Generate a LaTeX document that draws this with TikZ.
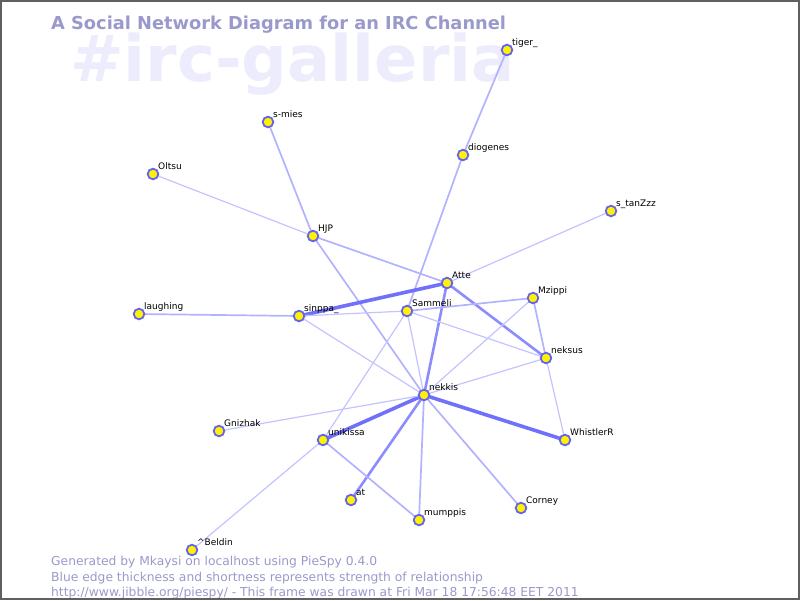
\documentclass[tikz,border=0pt]{standalone}
\usepackage{fontspec}
\setmainfont{DejaVu Sans}
\usetikzlibrary{backgrounds}

\definecolor{caption}{RGB}{153,153,204}
\definecolor{watermark}{RGB}{236,236,252}
\definecolor{ringblue}{RGB}{100,100,240}
\definecolor{framegray}{RGB}{96,96,96}
\definecolor{edgefaint}{RGB}{195,195,255}
\definecolor{edgesoft}{RGB}{178,178,255}
\definecolor{edgefirm}{RGB}{140,140,255}
\definecolor{edgestrong}{RGB}{112,112,250}

\begin{document}
\begin{tikzpicture}[x=1pt, y=-1pt,
    person/.style={circle, fill=yellow, draw=ringblue, line width=1.8pt, minimum size=10.6pt, inner sep=0pt},
    nick/.style={anchor=base west, inner sep=0pt, font=\fontsize{9}{9}\selectfont},
    footer/.style={anchor=base west, inner sep=0pt, text=caption, font=\fontsize{12.3}{12.3}\selectfont},
    faint/.style={draw=edgefaint, line width=1.2pt},
    soft/.style={draw=edgesoft, line width=1.7pt},
    firm/.style={draw=edgefirm, line width=2.6pt},
    strong/.style={draw=edgestrong, line width=3.6pt}]
    \useasboundingbox (0,0) rectangle (800,600);

    % title
    \node[anchor=base west, inner sep=0pt, text=caption, font=\bfseries\fontsize{17.8}{17.8}\selectfont] (title) at (51,29) {A Social Network Diagram for an IRC Channel};

    % people
    \foreach \n/\x/\y/\t in {tiger/507/50/tiger\_, diogenes/463/155/diogenes, smies/268/122/s-mies,
        oltsu/153/174/Oltsu, stanzzz/611/211/s\_tanZzz, hjp/313/236/HJP, atte/447/283/Atte,
        laughing/139/314/laughing, sinppa/299/316/sinppa\_, sammeli/407/311/Sammeli,
        mzippi/533/298/Mzippi, neksus/546/358/neksus, nekkis/424/395/nekkis,
        gnizhak/219/431/Gnizhak, unikissa/323/440/unikissa, whistler/565/440/WhistlerR,
        atuser/351/500/at, mumppis/419/520/mumppis, corney/521/508/Corney,
        beldin/192/550/\textasciicircum Beldin}{
        \node[person] (\n) at (\x,\y) {};
        \node[nick] (\n-nick) at (\x+5,\y-5) {\t};
    }

    % edges under the people
    \begin{scope}[on background layer]
        \node[anchor=base west, inner sep=0pt, text=watermark, font=\bfseries\fontsize{64}{64}\selectfont] (channel) at (70,81) {\#irc-galleria};
        \foreach \a/\b/\s in {tiger/diogenes/soft, diogenes/sammeli/soft, smies/hjp/soft,
            oltsu/hjp/faint, hjp/atte/soft, hjp/nekkis/soft, stanzzz/atte/faint,
            atte/sinppa/strong, atte/nekkis/firm, atte/neksus/firm, laughing/sinppa/soft,
            sinppa/sammeli/faint, sinppa/nekkis/faint, sammeli/mzippi/soft,
            sammeli/neksus/faint, sammeli/unikissa/faint, sammeli/nekkis/faint,
            mzippi/nekkis/faint, mzippi/neksus/soft, neksus/nekkis/faint,
            neksus/whistler/faint, nekkis/whistler/strong, nekkis/unikissa/strong,
            nekkis/atuser/firm, nekkis/mumppis/soft, nekkis/corney/soft,
            nekkis/gnizhak/faint, unikissa/mumppis/soft, unikissa/beldin/faint}{
            \draw[\s] (\a.center) -- (\b.center);
        }
    \end{scope}

    % footer
    \node[footer] (generated) at (51,565) {Generated by Mkaysi on localhost using PieSpy 0.4.0};
    \node[footer] (legend) at (51,581) {Blue edge thickness and shortness represents strength of relationship};
    \node[footer] (stamp) at (51,596) {http://www.jibble.org/piespy/ - This frame was drawn at Fri Mar 18 17:56:48 EET 2011};

    \draw[framegray, line width=2pt] (1,1) rectangle (799,599);
\end{tikzpicture}
\end{document}
